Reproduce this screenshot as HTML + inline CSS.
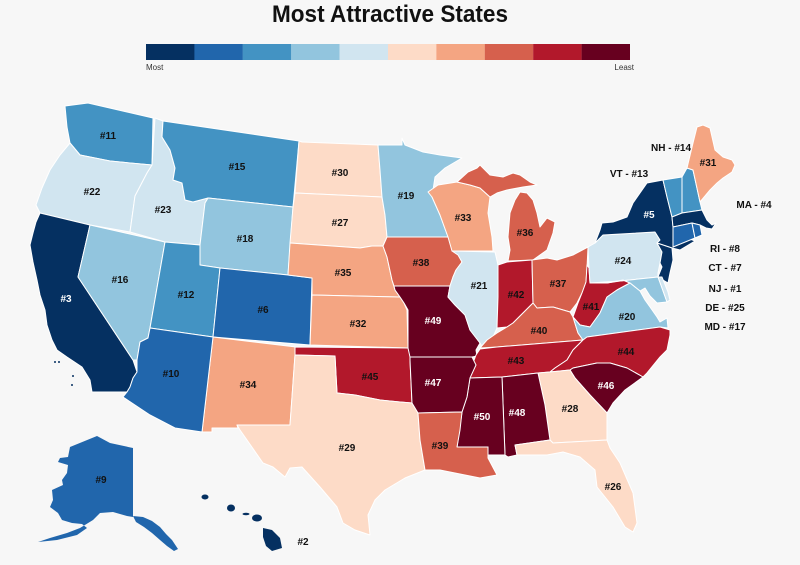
<!DOCTYPE html>
<html>
<head>
<meta charset="utf-8">
<style>
html,body{margin:0;padding:0;background:#f7f7f7;}
svg{display:block;}
.s{stroke:#ffffff;stroke-width:1;stroke-linejoin:round;}
.c1{fill:#053061}.c2{fill:#2166ac}.c3{fill:#4393c3}.c4{fill:#92c5de}.c5{fill:#d1e5f0}
.c6{fill:#fddbc7}.c7{fill:#f4a582}.c8{fill:#d6604d}.c9{fill:#b2182b}.c10{fill:#67001f}
.l{font-family:"Liberation Sans",sans-serif;font-weight:bold;font-size:10px;fill:#111;text-anchor:middle;}
.w{fill:#fff;}
.sl{font-family:"Liberation Sans",sans-serif;font-weight:bold;font-size:10px;fill:#111;text-anchor:middle;}
</style>
</head>
<body>
<svg width="800" height="565" viewBox="0 0 800 565" xmlns="http://www.w3.org/2000/svg">
<rect width="800" height="565" fill="#f7f7f7"/>
<text x="390" y="22" font-family="Liberation Sans, sans-serif" font-weight="bold" font-size="24" fill="#111" text-anchor="middle" textLength="236" lengthAdjust="spacingAndGlyphs">Most Attractive States</text>
<!-- legend -->
<g>
<rect x="146" y="44" width="48.5" height="16" class="c1"/>
<rect x="194.4" y="44" width="48.5" height="16" class="c2"/>
<rect x="242.8" y="44" width="48.5" height="16" class="c3"/>
<rect x="291.2" y="44" width="48.5" height="16" class="c4"/>
<rect x="339.6" y="44" width="48.5" height="16" class="c5"/>
<rect x="388" y="44" width="48.5" height="16" class="c6"/>
<rect x="436.4" y="44" width="48.5" height="16" class="c7"/>
<rect x="484.8" y="44" width="48.5" height="16" class="c8"/>
<rect x="533.2" y="44" width="48.5" height="16" class="c9"/>
<rect x="581.6" y="44" width="48.4" height="16" class="c10"/>
<text x="146" y="70" font-family="Liberation Sans, sans-serif" font-size="8" fill="#333">Most</text>
<text x="634" y="70" font-family="Liberation Sans, sans-serif" font-size="8" fill="#333" text-anchor="end">Least</text>
</g>
<g class="s">
<!-- WA --><polygon class="c3" points="65,106 88,103 153,118 152,165 130,163 110,161 95,158 80,155 70,143 67,127"/>
<!-- OR --><polygon class="c5" points="70,143 80,155 95,158 110,161 130,163 152,165 147,173 135,196 130,232 90,225 40,213 36,205 42,188 50,170 60,155"/>
<!-- CA --><polygon class="c1" points="40,213 90,225 78,277 133,360 137,372 133,378 130,387 127,392 92,392 90,380 82,367 67,357 57,350 52,340 47,325 45,310 40,295 37,280 33,262 30,245 33,233 36,222"/>
<!-- NV --><polygon class="c4" points="90,225 165,242 150,328 148,338 140,342 137,360 133,360 78,277"/>
<!-- ID --><polygon class="c5" points="155,118 163,121 162,137 170,150 175,168 173,180 182,183 185,200 193,202 208,198 205,203 200,245 165,242 130,232 135,196 147,173 152,165"/>
<!-- MT --><polygon class="c3" points="163,121 299,141 293,207 208,198 193,202 185,200 182,183 173,180 175,168 170,150 162,137"/>
<!-- WY --><polygon class="c4" points="208,198 293,207 288,275 220,268 200,265 200,245 205,203"/>
<!-- UT --><polygon class="c3" points="165,242 200,245 200,265 220,268 213,337 150,328"/>
<!-- CO --><polygon class="c2" points="220,268 288,275 312,278 310,345 213,337"/>
<!-- NM --><polygon class="c7" points="213,337 296,347 295,355 290,425 237,425 238,428 212,428 212,432 202,432"/>
<!-- AZ --><polygon class="c2" points="150,328 213,337 202,432 175,428 150,415 123,397 127,392 130,387 133,378 137,372 137,360 140,342 148,338"/>
<!-- ND --><polygon class="c6" points="302,142 378,145 380,170 382,197 295,193 299,141"/>
<!-- SD --><polygon class="c6" points="295,193 382,197 385,215 387,237 383,246 372,246 360,248 290,243 293,207"/>
<!-- NE --><polygon class="c7" points="290,243 360,248 372,246 383,246 387,257 392,280 395,290 400,297 312,295 312,278 288,275"/>
<!-- KS --><polygon class="c7" points="312,295 400,297 404,303 407,310 408,348 310,345"/>
<!-- OK --><polygon class="c9" points="295,347 408,348 410,350 410,360 412,403 400,402 380,400 355,395 337,393 335,356 295,355"/>
<!-- TX --><polygon class="c6" points="295,355 335,356 337,393 355,395 380,400 400,402 412,403 418,413 420,440 425,470 405,478 385,490 375,500 368,515 370,535 355,530 343,523 337,507 320,487 302,467 290,468 285,477 273,467 263,463 240,430 237,425 290,425"/>
<!-- MN --><polygon class="c4" points="378,145 402,145 402,138 405,145 423,152 440,155 462,158 445,168 435,177 432,197 440,215 448,237 387,237 385,215 382,197 380,170"/>
<!-- IA --><polygon class="c8" points="387,237 448,237 455,248 462,262 456,270 453,277 450,286 394,286 392,280 387,257 383,246"/>
<!-- MO --><polygon class="c10" points="394,286 450,286 448,297 455,305 465,315 470,330 480,343 476,350 477,356 472,357 410,357 408,348 408,310 404,303 400,297 395,290"/>
<!-- IL --><polygon class="c5" points="452,251 495,252 498,265 498,297 497,328 493,337 483,348 480,343 470,330 465,315 455,305 448,297 450,286 453,277 456,270 462,262 458,255"/>
<!-- WI --><polygon class="c7" points="428,192 438,185 457,182 470,185 480,188 490,197 488,213 492,237 493,251 452,251 448,237 440,215 432,197"/>
<!-- MI UP --><polygon class="c8" points="457,182 468,172 477,168 480,165 490,175 503,177 513,173 520,175 530,182 537,185 523,187 507,190 497,193 490,197 480,188 470,185"/>
<!-- MI LP --><polygon class="c8" points="520,192 527,193 533,200 537,213 540,227 547,218 555,222 553,233 547,250 533,260 508,261 510,250 508,237 510,213 515,200"/>
<!-- IN --><polygon class="c9" points="498,265 507,262 532,260 533,303 523,313 513,323 507,327 497,328 498,297"/>
<!-- OH --><polygon class="c8" points="532,260 547,258 557,260 573,255 588,247 587,268 586,282 582,293 577,303 570,312 553,307 537,308 533,303"/>
<!-- KY --><polygon class="c8" points="480,348 487,340 497,333 507,327 513,323 523,313 533,303 537,308 553,307 570,312 573,317 578,333 583,340 497,347"/>
<!-- TN --><polygon class="c9" points="480,349 497,347 583,340 573,350 567,360 555,368 550,372 538,373 502,377 470,378 473,363 476,355"/>
<!-- WV --><polygon class="c9" points="587,265 589,268 590,283 607,283 623,280 630,283 617,290 607,297 600,313 590,327 580,325 573,317 578,303 582,293 586,282"/>
<!-- PA --><polygon class="c5" points="588,247 595,243 603,235 655,232 660,240 657,243 662,252 660,263 658,273 658,277 620,281 590,283 589,268"/>
<!-- NY --><polygon class="c1" points="595,243 600,230 602,223 613,222 627,217 633,203 640,193 647,183 663,180 667,197 672,217 673,227 673,247 676,245 690,239 695,241 680,250 672,248 657,243 660,240 655,232 603,235"/>
<!-- NJ --><polygon class="c1" points="657,243 672,248 673,260 670,273 668,283 658,277 662,267 660,263 662,252"/>
<!-- VT --><polygon class="c3" points="663,180 682,177 682,213 672,217 667,197"/>
<!-- NH --><polygon class="c3" points="682,177 687,168 693,170 700,202 702,210 682,213"/>
<!-- ME --><polygon class="c7" points="687,168 693,143 697,127 703,125 710,128 715,150 723,157 732,160 735,165 732,172 723,178 717,183 710,190 700,202 693,170"/>
<!-- MA --><polygon class="c1" points="672,217 682,213 702,210 707,220 712,225 716,223 712,229 706,228 700,225 692,223 673,227"/>
<!-- CT --><polygon class="c2" points="673,227 692,223 695,238 673,247"/>
<!-- RI --><polygon class="c2" points="692,223 700,225 702,235 695,238"/>
<!-- MD --><polygon class="c4" points="607,283 620,281 658,277 662,288 667,302 657,303 650,296 645,288 640,291 630,283 623,280"/>
<!-- DE --><polygon class="c5" points="658,277 662,277 668,292 670,300 667,302 662,288"/>
<!-- VA --><polygon class="c4" points="573,317 580,325 590,327 600,313 607,297 617,290 630,283 640,291 645,300 650,307 657,317 660,322 667,318 668,328 660,327 587,337 583,340 578,333"/>
<!-- NC --><polygon class="c9" points="583,340 587,337 660,327 670,330 670,335 667,350 660,357 647,373 643,377 627,368 610,363 597,363 573,368 570,370 550,372 555,368 567,360 573,350"/>
<!-- SC --><polygon class="c10" points="573,368 597,363 610,363 627,368 643,377 625,390 613,403 607,413 590,395 575,378 570,370"/>
<!-- GA --><polygon class="c6" points="538,373 550,372 570,370 575,378 590,395 607,413 607,440 553,443 550,440 545,405"/>
<!-- AL --><polygon class="c10" points="502,377 538,373 545,405 550,440 515,445 517,455 508,457 505,455"/>
<!-- MS --><polygon class="c10" points="470,378 502,377 505,455 487,455 488,447 457,447 462,412 467,397"/>
<!-- AR --><polygon class="c10" points="410,357 472,357 476,365 470,378 467,397 462,412 418,413 412,403 410,360"/>
<!-- LA --><polygon class="c8" points="418,413 462,412 460,430 457,447 488,447 488,458 497,475 480,478 460,474 440,470 425,470 420,440"/>
<!-- FL --><polygon class="c6" points="515,445 550,440 553,443 607,440 610,448 620,463 633,493 637,523 633,532 625,527 613,507 597,487 595,470 580,457 563,452 547,455 527,455 517,455"/>
</g>
<!-- AK -->
<g class="c2">
<polygon points="70,447 97,436 110,443 133,448 133,517 127,516 113,512 100,513 93,520 80,528 67,533 50,538 38,542 57,540 77,535 87,528 82,524 72,523 62,520 58,513 50,507 53,500 52,490 63,485 62,480 67,473 68,465 58,462 60,458 68,457"/>
<polygon points="133,516 143,517 152,521 160,527 166,534 172,540 178,549 174,551 167,546 160,540 152,533 144,527 136,522"/>
</g>
<!-- HI -->
<g class="c1">
<ellipse cx="205" cy="497" rx="3.5" ry="2.5"/>
<ellipse cx="231" cy="508" rx="4" ry="3.5"/>
<ellipse cx="246" cy="514" rx="3.5" ry="1.3"/>
<ellipse cx="257" cy="518" rx="5" ry="3.5"/>
<polygon points="263,528 272,530 280,538 282,548 272,551 266,546 263,537"/>
</g>
<!-- small islands -->
<g fill="#053061">
<circle cx="55" cy="362" r="1"/><circle cx="59" cy="362" r="1"/><circle cx="73" cy="376" r="1"/><circle cx="72" cy="385" r="1"/>
</g>
<!-- labels -->
<g class="l">
<text x="108" y="139">#11</text>
<text x="92" y="195">#22</text>
<text x="163" y="213">#23</text>
<text x="237" y="170">#15</text>
<text x="340" y="176">#30</text>
<text x="340" y="226">#27</text>
<text x="245" y="242">#18</text>
<text x="406" y="199">#19</text>
<text x="463" y="221">#33</text>
<text x="525" y="236">#36</text>
<text x="649" y="218" class="l w">#5</text>
<text x="708" y="166">#31</text>
<text x="66" y="302" class="l w">#3</text>
<text x="120" y="283">#16</text>
<text x="186" y="298">#12</text>
<text x="263" y="313">#6</text>
<text x="343" y="276">#35</text>
<text x="358" y="327">#32</text>
<text x="421" y="266">#38</text>
<text x="433" y="324" class="l w">#49</text>
<text x="479" y="289">#21</text>
<text x="516" y="298">#42</text>
<text x="558" y="287">#37</text>
<text x="591" y="310">#41</text>
<text x="623" y="264">#24</text>
<text x="627" y="320">#20</text>
<text x="539" y="334">#40</text>
<text x="171" y="377">#10</text>
<text x="248" y="388">#34</text>
<text x="370" y="380">#45</text>
<text x="516" y="364">#43</text>
<text x="626" y="355">#44</text>
<text x="433" y="386" class="l w">#47</text>
<text x="606" y="389" class="l w">#46</text>
<text x="482" y="420" class="l w">#50</text>
<text x="517" y="416" class="l w">#48</text>
<text x="570" y="412">#28</text>
<text x="440" y="449">#39</text>
<text x="347" y="451">#29</text>
<text x="613" y="490">#26</text>
<text x="101" y="483">#9</text>
<text x="303" y="545">#2</text>
</g>
<g class="sl">
<text x="671" y="151">NH - #14</text>
<text x="629" y="177">VT - #13</text>
<text x="754" y="208">MA - #4</text>
<text x="725" y="252">RI - #8</text>
<text x="725" y="271">CT - #7</text>
<text x="725" y="292">NJ - #1</text>
<text x="725" y="311">DE - #25</text>
<text x="725" y="330">MD - #17</text>
</g>
</svg>
</body>
</html>
